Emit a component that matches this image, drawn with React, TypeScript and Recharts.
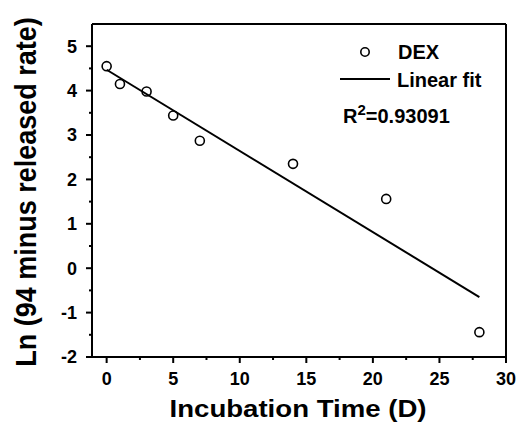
import * as React from "react";
import { ScatterChart, Scatter, XAxis, YAxis } from "recharts";

// Measured points (incubation day vs ln value)
const DAYS = [0, 1, 3, 5, 7, 14, 21, 28];
const LN_VALUES = [4.55, 4.15, 3.98, 3.44, 2.87, 2.35, 1.56, -1.44];

// End points of the linear fit as drawn
const FIT_DAYS = [0, 28];
const FIT_VALUES = [4.47, -0.65];

const X_DOMAIN = [-1.1, 30];
const Y_DOMAIN = [-2, 5.5];
const X_TICKS = [0, 2.5, 5, 7.5, 10, 12.5, 15, 17.5, 20, 22.5, 25, 27.5, 30];
const Y_TICKS = [-2, -1.5, -1, -0.5, 0, 0.5, 1, 1.5, 2, 2.5, 3, 3.5, 4, 4.5, 5];

const X_TITLE = "Incubation Time (D)";
const Y_TITLE = "Ln (94 minus released rate)";
const SERIES_NAME = "DEX";
const FIT_NAME = "Linear fit";
const R2_TEXT = "0.93091";

const FONT = "'Liberation Sans', Arial, sans-serif";
const INK = "black";

const points = DAYS.map((d, i) => ({ x: d, y: LN_VALUES[i] }));
const fit = FIT_DAYS.map((d, i) => ({ x: d, y: FIT_VALUES[i] }));

function XTick(props: any) {
  const { x, y, payload } = props;
  const major = payload.value % 5 === 0;
  return (
    <g>
      <line x1={x} y1={y} x2={x} y2={y + (major ? 6 : 3)} stroke={INK} strokeWidth={2} />
      {major && (
        <text
          x={x}
          y={y + 28}
          textAnchor="middle"
          fontFamily={FONT}
          fontWeight="bold"
          fontSize={18}
          fill={INK}
          stroke="none"
        >
          {payload.value}
        </text>
      )}
    </g>
  );
}

function YTick(props: any) {
  const { x, y, payload } = props;
  const major = Number.isInteger(payload.value);
  return (
    <g>
      <line x1={x} y1={y} x2={x - (major ? 6 : 3)} y2={y} stroke={INK} strokeWidth={2} />
      {major && (
        <text
          x={x - 15}
          y={y}
          dy="0.36em"
          textAnchor="end"
          fontFamily={FONT}
          fontWeight="bold"
          fontSize={18}
          fill={INK}
          stroke="none"
        >
          {payload.value}
        </text>
      )}
    </g>
  );
}

// titles and legend box, laid over the chart
function Overlay() {
  const t = { fontFamily: FONT, fontWeight: "bold" as const, fill: INK };
  return (
    <svg
      width={521}
      height={426}
      style={{ position: "absolute", left: 0, top: 0, pointerEvents: "none" }}
    >
      <text transform="translate(298,417) scale(1.2,1)" textAnchor="middle" fontSize={23} {...t}>
        {X_TITLE}
      </text>
      <text
        transform="translate(36,192) scale(1.12,1) rotate(-90)"
        textAnchor="middle"
        fontSize={27}
        {...t}
      >
        {Y_TITLE}
      </text>
      <circle cx={365} cy={52} r={4.2} fill="none" stroke={INK} strokeWidth={1.6} />
      <text x={398} y={59} fontSize={20} {...t}>
        {SERIES_NAME}
      </text>
      <line x1={340} y1={79} x2={390} y2={79} stroke={INK} strokeWidth={2} />
      <text x={397} y={87} fontSize={20} {...t}>
        {FIT_NAME}
      </text>
      <text x={343} y={123} fontSize={20} {...t}>
        R<tspan dy={-8} fontSize={15}>2</tspan>
        <tspan dy={8}>={R2_TEXT}</tspan>
      </text>
    </svg>
  );
}

export default function App() {
  return (
    <div
      style={{
        position: "absolute",
        left: 0,
        top: 0,
        width: 521,
        height: 426,
        background: "#fff",
      }}
    >
      <ScatterChart
        width={521}
        height={426}
        margin={{ top: 23, right: 14, bottom: 0, left: 0 }}
      >
        <XAxis
          type="number"
          dataKey="x"
          domain={X_DOMAIN}
          ticks={X_TICKS}
          interval={0}
          height={69}
          stroke={INK}
          strokeWidth={2}
          tickSize={0}
          tickMargin={0}
          tickLine={false}
          tick={<XTick />}
          allowDataOverflow
        />
        <XAxis
          xAxisId="top"
          orientation="top"
          type="number"
          domain={X_DOMAIN}
          ticks={X_TICKS}
          height={1}
          stroke={INK}
          strokeWidth={2}
          tick={false}
          tickLine={false}
          allowDataOverflow
        />
        <YAxis
          type="number"
          dataKey="y"
          domain={Y_DOMAIN}
          ticks={Y_TICKS}
          interval={0}
          width={92}
          stroke={INK}
          strokeWidth={2}
          tickSize={0}
          tickMargin={0}
          tickLine={false}
          tick={<YTick />}
          allowDataOverflow
        />
        <YAxis
          yAxisId="right"
          orientation="right"
          type="number"
          domain={Y_DOMAIN}
          ticks={Y_TICKS}
          width={1}
          stroke={INK}
          strokeWidth={2}
          tick={false}
          tickLine={false}
          allowDataOverflow
        />
        <Scatter
          name={FIT_NAME}
          data={fit}
          line={{ stroke: INK, strokeWidth: 2 }}
          fill="none"
          isAnimationActive={false}
        />
        <Scatter
          name={SERIES_NAME}
          data={points}
          fill="none"
          stroke={INK}
          strokeWidth={1.6}
          isAnimationActive={false}
        />
      </ScatterChart>
      <Overlay />
    </div>
  );
}
